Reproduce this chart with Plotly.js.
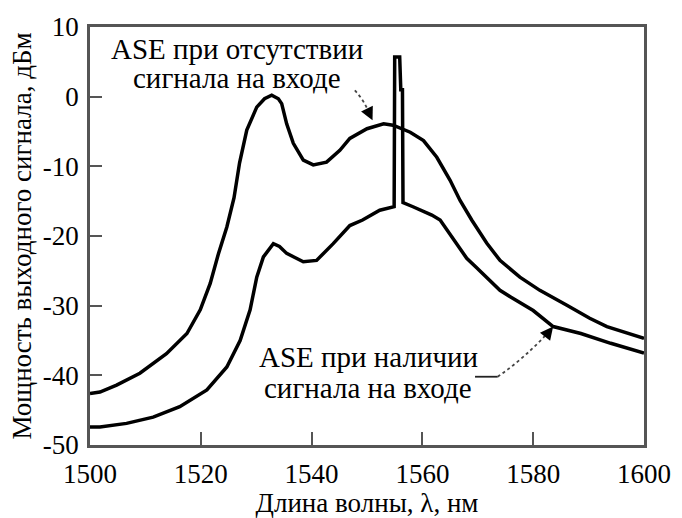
<!DOCTYPE html>
<html>
<head>
<meta charset="utf-8">
<script src="https://cdn.plot.ly/plotly-3.0.1.min.js"></script>
</head>
<body style="margin:0;padding:0;background:#fff;">
<div id="chart" style="width:682px;height:518px;"></div>
<script>
// Spectrum without input signal (upper curve)
var lambdaNoSignal = [1500, 1501.8, 1504.8, 1509.0, 1513.8, 1517.5, 1519.9, 1521.7, 1523.2, 1524.7, 1526.0, 1527.0, 1528.3, 1530.1, 1531.5, 1532.8, 1534.0, 1534.6, 1535.5, 1536.7, 1538.5, 1540.3, 1542.7, 1545.1, 1546.9, 1550.0, 1553.0, 1554.7, 1557.8, 1560.2, 1562.6, 1565.0, 1566.8, 1568.9, 1571.6, 1574.0, 1577.6, 1581.2, 1586.0, 1590.2, 1593.3, 1600];
var powerNoSignal = [-42.6, -42.4, -41.4, -39.7, -36.9, -34.0, -30.6, -26.8, -22.5, -18.7, -14.5, -9.5, -4.8, -1.5, -0.3, 0.2, -0.3, -1.0, -3.9, -6.7, -9.1, -9.8, -9.4, -7.7, -6.0, -4.6, -3.9, -4.1, -5.1, -6.3, -8.7, -12.0, -14.9, -17.7, -21.0, -23.5, -25.9, -27.8, -29.9, -31.8, -33.0, -34.7];

// Spectrum with input signal (lower curve, with signal peak)
var lambdaWithSignal = [1500, 1501.8, 1506.6, 1511.4, 1516.2, 1521.1, 1524.7, 1527.1, 1528.9, 1530.1, 1531.3, 1533.1, 1534.2, 1535.5, 1538.5, 1540.9, 1543.9, 1546.9, 1549.2, 1552.3, 1554.9, 1555.0, 1555.9, 1556.1, 1556.4, 1556.5, 1558.3, 1561.7, 1563.2, 1566.5, 1568.0, 1569.7, 1572.8, 1574.0, 1576.0, 1580.0, 1583.6, 1588.6, 1594.0, 1600];
var powerWithSignal = [-47.4, -47.4, -46.9, -46.0, -44.5, -42.1, -38.8, -35.0, -30.6, -25.9, -23.0, -21.1, -21.5, -22.5, -23.7, -23.5, -21.1, -18.5, -17.7, -16.3, -15.8, 5.7, 5.7, 1.0, 1.0, -15.2, -15.8, -17.0, -17.7, -21.6, -23.2, -24.5, -26.8, -27.8, -28.8, -30.7, -33.0, -34.0, -35.4, -36.8];

// Tick labels
var xTickVals = [1500, 1520, 1540, 1560, 1580, 1600];
var xTickText = ['1500', '1520', '1540', '1560', '1580', '1600'];
var yTickVals = [-50, -40, -30, -20, -10, 0, 10];
var yTickText = ['-50', '-40', '-30', '-20', '-10', '0', '10'];

// Labels
var labelNoSignal = ['ASE при отсутствии', 'сигнала на входе'];
var labelWithSignal = ['ASE при наличии', 'сигнала на входе'];
var xTitle = 'Длина волны, λ, нм';
var yTitle = 'Мощность выходного сигнала, дБм';

var FONT = 'Liberation Serif';
var AXC = '#555555';

var traces = [
  {x: lambdaNoSignal, y: powerNoSignal, mode: 'lines', type: 'scatter',
   line: {color: '#000', width: 3.5}, hoverinfo: 'skip'},
  {x: lambdaWithSignal, y: powerWithSignal, mode: 'lines', type: 'scatter',
   line: {color: '#000', width: 3.5}, hoverinfo: 'skip'}
];

function txt(t, x, y) {
  return {text: t, x: x, y: y, xref: 'x', yref: 'y', showarrow: false,
          xanchor: 'center', yanchor: 'middle',
          font: {family: FONT, size: 29, color: '#000'}};
}
function head(x, y, ax, ay) {
  return {text: '', x: x, y: y, ax: ax, ay: ay, xref: 'x', yref: 'y', axref: 'x', ayref: 'y',
          showarrow: true, arrowhead: 2, arrowsize: 1.3, arrowwidth: 2, arrowcolor: '#000', standoff: 0};
}

var layout = {
  width: 682, height: 518,
  margin: {l: 90, r: 38, t: 27, b: 73, pad: 0},
  paper_bgcolor: '#fff', plot_bgcolor: '#fff',
  showlegend: false,
  xaxis: {
    range: [1500, 1600], tickmode: 'array', tickvals: xTickVals, ticktext: xTickText,
    ticks: 'inside', ticklen: 13, tickwidth: 2, tickcolor: AXC,
    showline: true, linecolor: AXC, linewidth: 2.5, mirror: true,
    showgrid: false, zeroline: false,
    tickfont: {family: FONT, size: 27, color: '#000'},
    ticklabelstandoff: 3,
    title: {text: xTitle, font: {family: FONT, size: 27, color: '#000'}, standoff: 2},
    fixedrange: true
  },
  yaxis: {
    range: [-50, 10], tickmode: 'array', tickvals: yTickVals, ticktext: yTickText,
    ticks: 'inside', ticklen: 12, tickwidth: 2, tickcolor: AXC,
    showline: true, linecolor: AXC, linewidth: 2.5, mirror: true,
    showgrid: false, zeroline: false,
    tickfont: {family: FONT, size: 27, color: '#000'},
    ticklabelstandoff: 3,
    title: {text: yTitle, font: {family: FONT, size: 27, color: '#000'}, standoff: 4},
    fixedrange: true
  },
  shapes: [
    {type: 'path', xref: 'x', yref: 'y', path: 'M 1547.8 0.9 Q 1549.6 -0.6 1550.6 -2.8',
     line: {color: '#444', width: 1.8, dash: 'dot'}},
    {type: 'line', xref: 'x', yref: 'y', x0: 1569.5, y0: -40.2, x1: 1573.6, y1: -40.2,
     line: {color: '#222', width: 1.8}},
    {type: 'path', xref: 'x', yref: 'y', path: 'M 1573.6 -40.2 Q 1578.5 -37.5 1582.9 -33.7',
     line: {color: '#444', width: 1.8, dash: 'dot'}}
  ],
  annotations: [
    txt(labelNoSignal[0], 1526.5, 6.9),
    txt(labelNoSignal[1], 1526.5, 2.7),
    txt(labelWithSignal[0], 1550.2, -37.4),
    txt(labelWithSignal[1], 1550.2, -41.8),
    head(1551.0, -3.4, 1550.4, -2.4),
    head(1583.6, -33.0, 1582.8, -33.8)
  ]
};

function draw() {
  Plotly.newPlot('chart', traces, layout, {displayModeBar: false});
}
draw();
if (document.fonts && document.fonts.load) {
  document.fonts.load('27px "Liberation Serif"', 'ASE при 1540').then(draw, function () {});
}
</script>
</body>
</html>
